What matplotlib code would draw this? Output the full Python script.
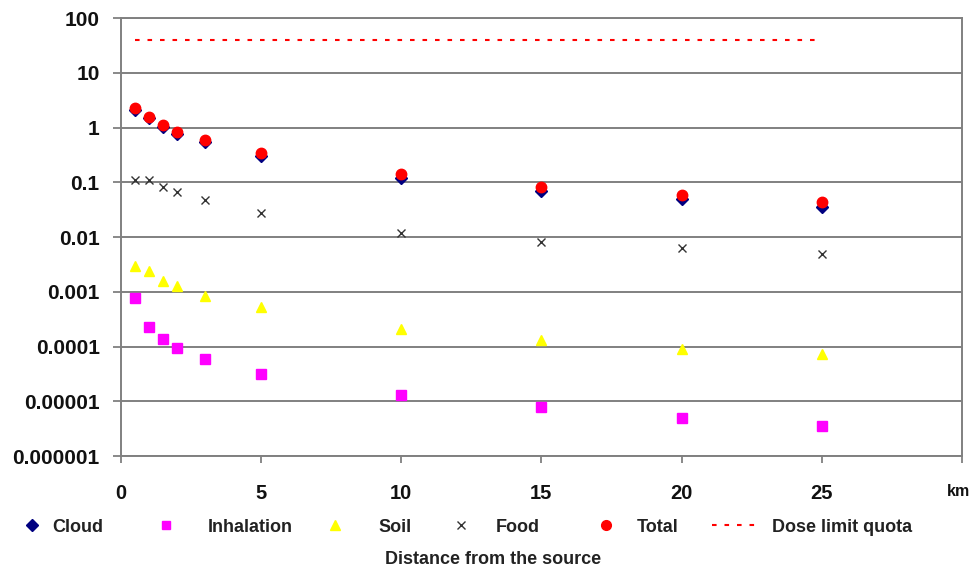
import matplotlib
matplotlib.use('Agg')
import matplotlib.pyplot as plt
from matplotlib.lines import Line2D
from matplotlib.ticker import NullLocator

plt.rcParams['font.family'] = ['Liberation Sans', 'DejaVu Sans']

# data
distance = [0.5, 1, 1.5, 2, 3, 5, 10, 15, 20, 25]
cloud = [2.1, 1.5, 1.05, 0.77, 0.54, 0.30, 0.12, 0.070, 0.050, 0.036]
inhalation = [7.7e-4, 2.3e-4, 1.35e-4, 9.5e-5, 5.9e-5, 3.2e-5, 1.3e-5, 7.8e-6, 5.0e-6, 3.5e-6]
soil = [3.0e-3, 2.4e-3, 1.6e-3, 1.3e-3, 8.5e-4, 5.2e-4, 2.1e-4, 1.3e-4, 9.0e-5, 7.3e-5]
food = [0.11, 0.11, 0.083, 0.066, 0.047, 0.028, 0.012, 0.0081, 0.0063, 0.0050]
total = [2.3, 1.6, 1.12, 0.83, 0.60, 0.34, 0.14, 0.083, 0.059, 0.043]
dose_limit = [40, 40, 40, 40, 40, 40, 40, 40, 40, 40]

y_ticks = [1e-6, 1e-5, 1e-4, 1e-3, 1e-2, 1e-1, 1, 10, 100]
y_labels = ['0.000001', '0.00001', '0.0001', '0.001', '0.01', '0.1', '1', '10', '100']
x_ticks = [0, 5, 10, 15, 20, 25, 30]
x_labels = ['0', '5', '10', '15', '20', '25', '']

grey = '#808080'

fig = plt.figure(figsize=(9.72, 5.71), dpi=100)
ax = fig.add_axes([0.124, 0.2014, 0.866, 0.7666])

ax.plot(distance, dose_limit, color='red', lw=1.5, dashes=(2.2, 3.8), zorder=2)
ax.plot(distance, cloud, 'D', color='#000080', ms=6.3, ls='none', zorder=3)
ax.plot(distance, inhalation, 's', color='#FF00FF', ms=6.5, ls='none', zorder=3)
ax.plot(distance, soil, '^', color='#FFFF00', ms=7.5, ls='none', zorder=3)
ax.plot(distance, food, 'x', color='#333333', ms=6, mew=1.0, ls='none', zorder=3)
ax.plot(distance, total, 'o', color='#FF0000', ms=7.5, ls='none', zorder=4)

ax.set_yscale('log')
ax.set_ylim(1e-6, 100)
ax.set_xlim(0, 30)
ax.set_yticks(y_ticks)
ax.set_yticklabels(y_labels)
ax.yaxis.set_minor_locator(NullLocator())
ax.set_xticks(x_ticks)
ax.set_xticklabels(x_labels)

ax.grid(axis='y', color=grey, lw=1.4)
ax.set_axisbelow(True)
for s in ax.spines.values():
    s.set_color(grey)
    s.set_linewidth(1.4)

ax.tick_params(axis='y', direction='out', length=6, width=1.3, color=grey,
               pad=9, labelsize=15)
ax.tick_params(axis='x', direction='out', length=5, width=1.3, color=grey,
               pad=15, labelsize=14.5)
for lab in ax.get_yticklabels() + ax.get_xticklabels():
    lab.set_fontweight('bold')
    lab.set_color('#111111')

fig.text(958 / 972, 1 - 491 / 571, 'km', ha='center', va='center',
         fontsize=11.5, fontweight='bold', color='#111111')
fig.text(493 / 972, 1 - 560 / 571, 'Distance from the source', ha='center',
         va='center', fontsize=13, fontweight='bold', color='#222222')

# legend entries, each placed where it sits in the original
handles = [
    Line2D([], [], marker='D', color='#000080', ms=6, ls='none'),
    Line2D([], [], marker='s', color='#FF00FF', ms=6, ls='none'),
    Line2D([], [], marker='^', color='#FFFF00', ms=7, ls='none'),
    Line2D([], [], marker='x', color='#333333', ms=6, mew=1.0, ls='none'),
    Line2D([], [], marker='o', color='#FF0000', ms=7, ls='none'),
    Line2D([], [], color='red', lw=1.5, dashes=(2.2, 3.8)),
]
names = ['Cloud', 'Inhalation', 'Soil', 'Food', 'Total', 'Dose limit quota']
hand_x = [21, 155, 324, 450, 595, 712]
hand_len = [1.2, 1.2, 1.2, 1.2, 1.2, 2.47]
text_pad = [0.53, 1.71, 1.82, 1.35, 1.1, 0.87]

for h, n, x0, hl, tp in zip(handles, names, hand_x, hand_len, text_pad):
    leg = fig.legend([h], [n], loc='center left',
                     bbox_to_anchor=(x0 / 972, 1 - 527 / 571),
                     frameon=False, borderpad=0, borderaxespad=0,
                     handlelength=hl, handletextpad=tp, numpoints=1,
                     prop={'size': 13, 'weight': 'bold'})
    for t in leg.get_texts():
        t.set_color('#222222')

plt.savefig('out.png', dpi=100)
